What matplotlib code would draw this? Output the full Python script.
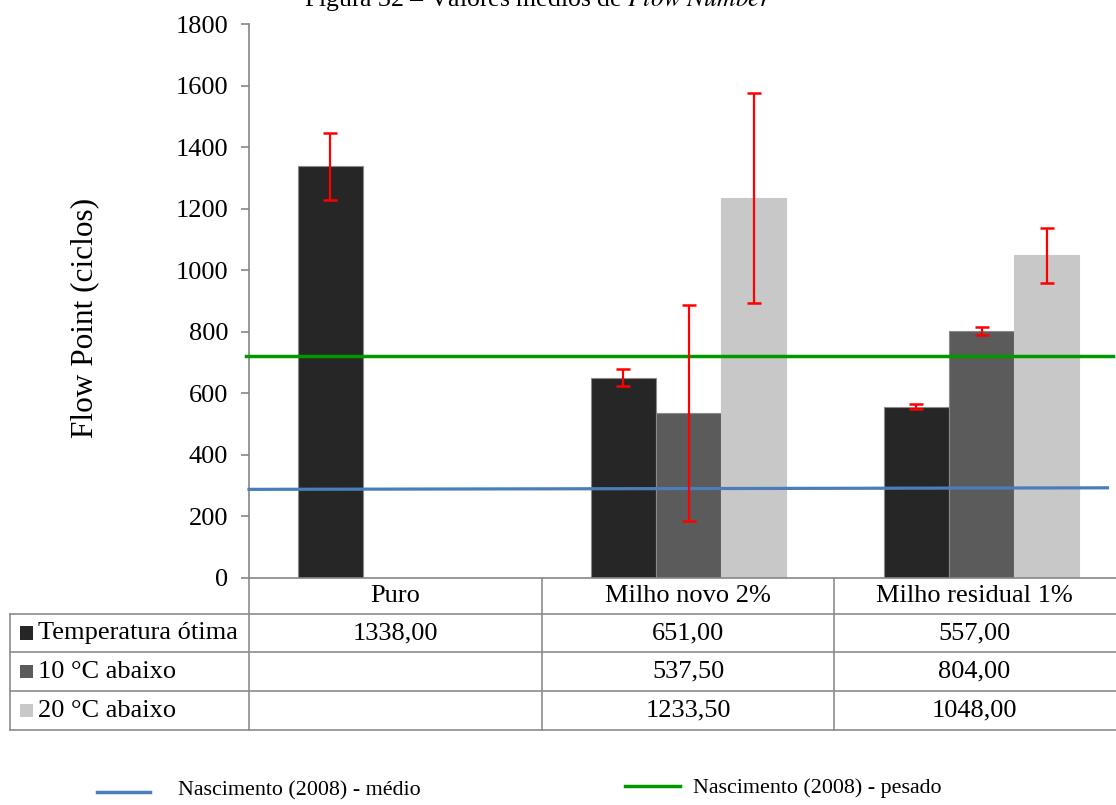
import matplotlib.pyplot as plt
from matplotlib.lines import Line2D
from matplotlib.patches import Rectangle
import numpy as np

plt.rcParams['font.family'] = ['Liberation Serif', 'DejaVu Serif']

categories = ["Puro", "Milho novo 2%", "Milho residual 1%"]
series_names = ["Temperatura ótima", "10 °C abaixo", "20 °C abaixo"]
temp_otima = [1338.00, 651.00, 557.00]
abaixo_10 = [np.nan, 537.50, 804.00]
abaixo_20 = [np.nan, 1233.50, 1048.00]
err_otima = [109, 27, 8]
err_10 = [0, 351, 13]
err_20 = [0, 341, 89]
ref_x = [-0.5, 2.43]
nasc_medio = [288, 293]
nasc_pesado = [721, 721]

colors = ["#262626", "#5b5b5b", "#c8c8c8"]
W, H = 1116, 805

fig = plt.figure(figsize=(W / 100, H / 100), dpi=100)


def fx(px):
    return px / W


def fy(py):
    return 1 - py / H


ax_left, ax_right, ax_top, ax_bot = 249, 1128, 24, 578
ax = fig.add_axes([fx(ax_left), fy(ax_bot), fx(ax_right - ax_left), fy(ax_top) - fy(ax_bot)])
ax.patch.set_alpha(0)

x = np.arange(len(categories))
bw = 0.222
data = [temp_otima, abaixo_10, abaixo_20]
errs = [err_otima, err_10, err_20]
for i, vals in enumerate(data):
    ax.bar(x + (i - 1) * bw, vals, bw, color=colors[i],
           edgecolor="#8a8a8a" if i < 2 else colors[i], linewidth=0.8, zorder=2)
for i, (vals, e) in enumerate(zip(data, errs)):
    v = np.array(vals, dtype=float)
    ee = np.array(e, dtype=float)
    m = ee > 0
    ax.errorbar((x + (i - 1) * bw)[m], v[m], yerr=ee[m], fmt="none", ecolor="#ff0000",
                elinewidth=1.6, capsize=5, capthick=1.8, zorder=5)

ax.plot(ref_x, nasc_medio, color="#4a7ebb", lw=2.3, zorder=4, clip_on=False)
ax.plot([ref_x[0] - 0.01, ref_x[1] + 0.02], nasc_pesado, color="#009a00", lw=2.5, zorder=4, clip_on=False)

ax.set_xlim(-0.5, 2.5)
ax.set_ylim(0, 1800)
ax.set_yticks(range(0, 1801, 200))
ax.set_xticks([])
ax.tick_params(axis="y", direction="out", length=6, width=1.2, color="#868686",
               labelsize=19, pad=9)
for s in ["top", "right"]:
    ax.spines[s].set_visible(False)
for s in ["left", "bottom"]:
    ax.spines[s].set_color("#868686")
    ax.spines[s].set_linewidth(1.2)

fig.text(fx(85), fy(318), "Flow Point (ciclos)", rotation=90, fontsize=22.5,
         ha="center", va="center")

# title (cut at top, as in the source)
fig.text(fx(538), fy(6), "Figura 32 – Valores médios de $\\it{Flow\\ Number}$",
         fontsize=18.5, ha="center", va="baseline", math_fontfamily="stix")

# data table
lc = "#8c8c8c"
lw = 1.2
col_x = [249, 542, 834, 1130]
row_y = [578, 614, 652, 691, 730]


def hline(y, x0, x1):
    fig.add_artist(Line2D([fx(x0), fx(x1)], [fy(y), fy(y)], color=lc, lw=lw))


def vline(xx, y0, y1):
    fig.add_artist(Line2D([fx(xx), fx(xx)], [fy(y0), fy(y1)], color=lc, lw=lw))


for y in row_y[1:]:
    hline(y, 10, W)
vline(10, row_y[1], row_y[-1])
for xx in col_x[:3]:
    vline(xx, row_y[0], row_y[-1])


def col_center(j):
    if j < 2:
        return (col_x[j] + col_x[j + 1]) / 2
    return (col_x[j] + col_x[j + 1] - 15) / 2


for j, c in enumerate(categories):
    fig.text(fx(col_center(j)), fy((row_y[0] + row_y[1]) / 2), c, fontsize=19,
             ha="center", va="center")

for i, (name, vals) in enumerate(zip(series_names, data)):
    yc = (row_y[i + 1] + row_y[i + 2]) / 2
    fig.add_artist(Rectangle((fx(20), fy(yc + 6.5)), fx(13), fy(yc - 6.5) - fy(yc + 6.5),
                             facecolor=colors[i], edgecolor="none"))
    fig.text(fx(38), fy(yc), name, fontsize=19, ha="left", va="center")
    for j, v in enumerate(vals):
        if np.isnan(v):
            continue
        fig.text(fx(col_center(j)), fy(yc), f"{v:.2f}".replace(".", ","), fontsize=19,
                 ha="center", va="center")

# legend
fig.add_artist(Line2D([fx(97), fx(150)], [fy(792), fy(792)], color="#4a7ebb", lw=2.5))
fig.text(fx(178), fy(791), "Nascimento (2008) - médio", fontsize=15.8, ha="left", va="center")
fig.add_artist(Line2D([fx(625), fx(680)], [fy(786), fy(786)], color="#009a00", lw=2.5))
fig.text(fx(693), fy(788), "Nascimento (2008) - pesado", fontsize=15.8, ha="left", va="center")

fig.savefig("out.png", dpi=100)
